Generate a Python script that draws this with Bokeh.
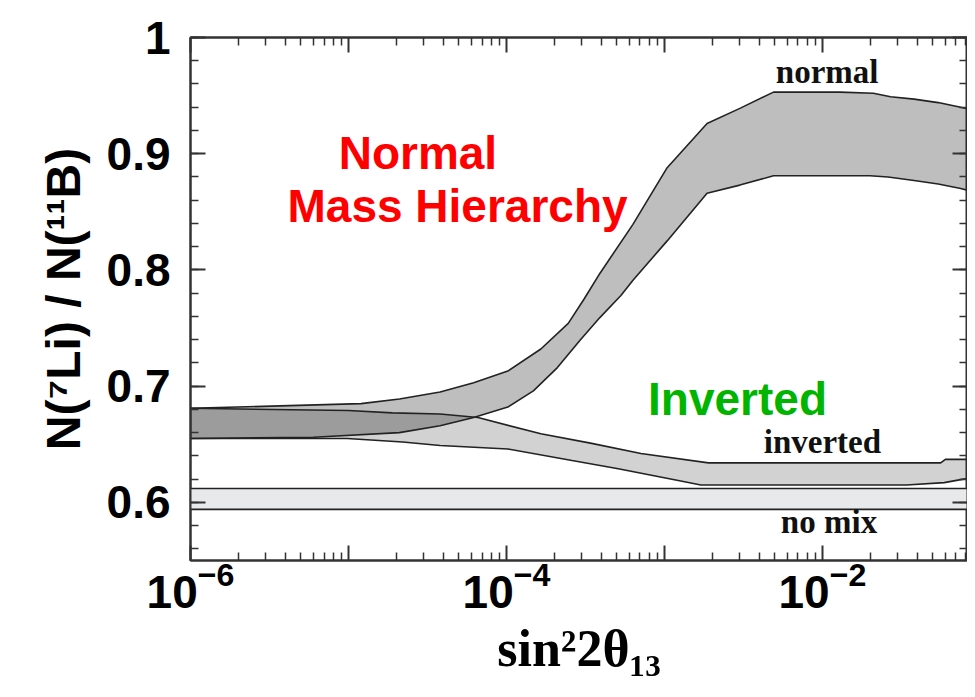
from bokeh.plotting import figure
from bokeh.models import FixedTicker, LogAxis, LinearAxis, Label, Range1d, CustomJSTickFormatter
from bokeh.embed import file_html
from bokeh.resources import INLINE

# ---------------- data ----------------
normal_upper_x = [1e-6, 3.7e-6, 1.2e-5, 2.1e-5, 3.8e-5, 6.2e-5, 1.02e-4, 1.65e-4, 2.46e-4, 3.1e-4,
                  3.9e-4, 6.3e-4, 1.04e-3, 1.86e-3, 3.0e-3, 4.9e-3, 1.29e-2, 2.1e-2, 2.7e-2, 3.8e-2,
                  5.4e-2, 7.5e-2, 9.3e-2]
normal_upper_y = [0.681, 0.683, 0.685, 0.689, 0.695, 0.703, 0.713, 0.732, 0.754, 0.775,
                  0.797, 0.839, 0.888, 0.926, 0.939, 0.953, 0.953, 0.952, 0.949, 0.947,
                  0.944, 0.940, 0.937]

normal_lower_x = [1e-6, 6e-6, 2.1e-5, 3.8e-5, 6.2e-5, 1.02e-4, 1.48e-4, 2.1e-4, 2.94e-4, 3.9e-4,
                  5.3e-4, 6.3e-4, 1.04e-3, 1.86e-3, 3.0e-3, 4.9e-3, 2.0e-2, 2.6e-2, 3.8e-2, 5.4e-2,
                  7.5e-2, 9.3e-2]
normal_lower_y = [0.655, 0.656, 0.660, 0.666, 0.673, 0.682, 0.696, 0.716, 0.740, 0.759,
                  0.778, 0.791, 0.825, 0.866, 0.873, 0.881, 0.881, 0.880, 0.877, 0.874,
                  0.870, 0.867]

inverted_upper_x = [1e-6, 1.0e-5, 1.9e-5, 3.8e-5, 6.6e-5, 1.65e-4, 3.4e-4, 7.1e-4, 1.9e-3, 5.6e-2,
                    6.0e-2, 9.3e-2]
inverted_upper_y = [0.681, 0.679, 0.677, 0.676, 0.673, 0.659, 0.651, 0.642, 0.634, 0.634,
                    0.637, 0.637]

inverted_lower_x = [1e-6, 9.8e-6, 2.2e-5, 3.8e-5, 1.02e-4, 2.6e-4, 5.1e-4, 1.2e-3, 1.7e-3, 3.4e-2,
                    5.9e-2, 7.8e-2, 9.3e-2]
inverted_lower_y = [0.655, 0.655, 0.652, 0.649, 0.646, 0.636, 0.629, 0.619, 0.615, 0.615,
                    0.617, 0.620, 0.621]

nomix_x = [1e-6, 9.3e-2]
nomix_upper = [0.612, 0.612]
nomix_lower = [0.594, 0.594]

x_major_ticks = [1e-6, 1e-5, 1e-4, 1e-3, 1e-2, 1e-1]
x_unlabeled = [1e-5, 1e-3, 1e-1]
y_major_ticks = [0.6, 0.7, 0.8, 0.9, 1.0]

# ---------------- figure ----------------
p = figure(width=967, height=681, x_axis_type="log",
           x_range=Range1d(1e-6, 0.0828), y_range=Range1d(0.55, 1.0),
           output_backend="svg", toolbar_location=None,
           min_border_left=190, min_border_right=0, min_border_top=37, min_border_bottom=121)
p.grid.visible = False
p.background_fill_color = "white"
p.outline_line_color = "#333333"
p.outline_line_width = 2

SANS = "Liberation Sans"
SERIF = "Liberation Serif"

x_minor = [m * 10.0 ** e for e in range(-6, -1) for m in range(2, 10)]
y_minor = [round(0.56 + 0.02 * i, 2) for i in range(23)]
xt = FixedTicker(ticks=x_major_ticks, minor_ticks=x_minor)
yt = FixedTicker(ticks=y_major_ticks, minor_ticks=y_minor)


def style_axis(ax):
    ax.axis_line_color = "#333333"
    ax.axis_line_width = 2
    ax.major_tick_line_color = "#333333"
    ax.minor_tick_line_color = "#333333"
    ax.major_tick_line_width = 2
    ax.minor_tick_line_width = 1.5
    ax.major_tick_in = 15
    ax.major_tick_out = 0
    ax.minor_tick_in = 8
    ax.minor_tick_out = 0


xa = p.xaxis[0]
xa.ticker = xt
style_axis(xa)
xa.major_label_overrides = {v: " " for v in x_unlabeled}
xa.major_label_text_font = SANS
xa.major_label_text_font_style = "bold"
xa.major_label_text_font_size = "46px"
xa.major_label_text_color = "black"
xa.major_label_standoff = 0
xa.axis_label = "sin²2θ₁₃"
xa.axis_label_text_font = SERIF
xa.axis_label_text_font_style = "bold"
xa.axis_label_text_font_size = "52px"
xa.axis_label_text_color = "black"
xa.axis_label_standoff = 4

ya = p.yaxis[0]
ya.ticker = yt
style_axis(ya)
ya.major_label_overrides = {1.0: "1"}
ya.major_label_text_font = SANS
ya.major_label_text_font_style = "bold"
ya.major_label_text_font_size = "46px"
ya.major_label_text_color = "black"
ya.major_label_standoff = 20
ya.axis_label = "N(⁷Li) / N(¹¹B)"
ya.axis_label_text_font = SANS
ya.axis_label_text_font_style = "bold"
ya.axis_label_text_font_size = "48px"
ya.axis_label_text_color = "black"
ya.axis_label_standoff = 14

top = LogAxis(ticker=xt, formatter=CustomJSTickFormatter(code="return ''"),
              major_label_text_font_size="1px", major_label_standoff=0)
style_axis(top)
right = LinearAxis(ticker=yt, formatter=CustomJSTickFormatter(code="return ''"),
                   major_label_text_font_size="1px", major_label_standoff=0)
style_axis(right)
p.add_layout(top, "above")
p.add_layout(right, "right")

# ---------------- bands ----------------
def band(ux, uy, lx, ly, color, alpha):
    p.patch(ux + lx[::-1], uy + ly[::-1], fill_color=color, fill_alpha=alpha, line_color=None)


p.varea(x=nomix_x, y1=nomix_lower, y2=nomix_upper, fill_color="#e8e9eb")
band(normal_upper_x, normal_upper_y, normal_lower_x, normal_lower_y, "#000000", 0.255)
band(inverted_upper_x, inverted_upper_y, inverted_lower_x, inverted_lower_y, "#000000", 0.175)

for xs, ys in [(normal_upper_x, normal_upper_y), (normal_lower_x, normal_lower_y),
               (inverted_upper_x, inverted_upper_y), (inverted_lower_x, inverted_lower_y),
               (nomix_x, nomix_upper), (nomix_x, nomix_lower)]:
    p.line(xs, ys, line_color="#222222", line_width=1.6)

# ---------------- annotations ----------------
big_labels = [
    ("Normal", 2.75e-5, 0.901, "#ff0000"),
    ("Mass Hierarchy", 4.9e-5, 0.855, "#ff0000"),
    ("Inverted", 2.9e-3, 0.689, "#00b400"),
]
for txt, lx, ly, col in big_labels:
    p.add_layout(Label(x=lx, y=ly, text=txt, text_align="center", text_baseline="alphabetic",
                       text_font=SANS, text_font_style="bold", text_font_size="46px",
                       text_color=col))

small_labels = [
    ("normal", 1.07e-2, 0.970),
    ("inverted", 1.0e-2, 0.652),
    ("no mix", 1.1e-2, 0.583),
]
for txt, lx, ly in small_labels:
    p.add_layout(Label(x=lx, y=ly, text=txt, text_align="center", text_baseline="alphabetic",
                       text_font=SERIF, text_font_style="bold", text_font_size="33px",
                       text_color="#111111"))

open("out.html", "w").write(file_html(p, INLINE))
